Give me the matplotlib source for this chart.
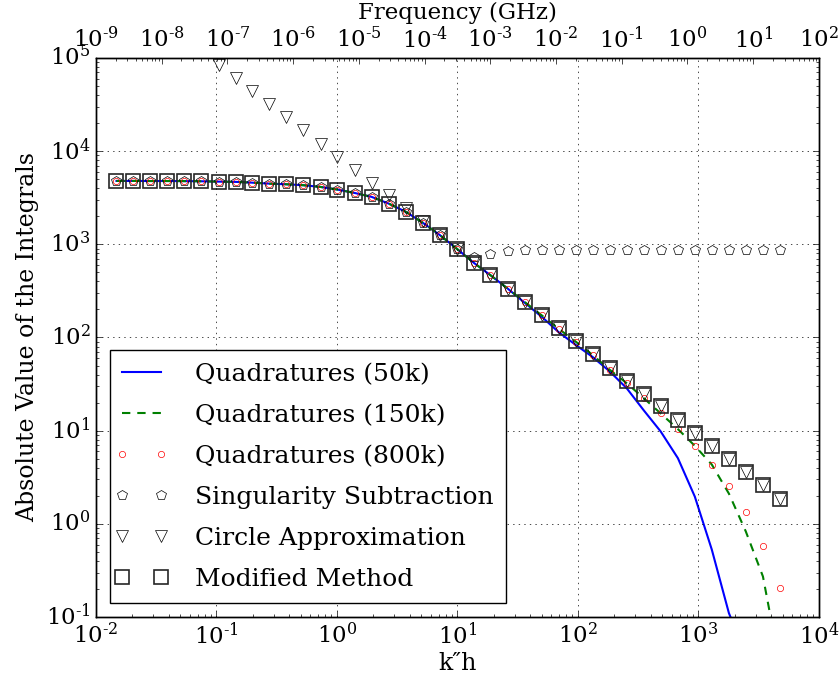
import numpy as np
import matplotlib
matplotlib.use('Agg')
import matplotlib.pyplot as plt
from matplotlib.ticker import FuncFormatter
from matplotlib.lines import Line2D
from matplotlib.legend_handler import HandlerLine2D

plt.style.use('classic')
plt.rcParams['font.family'] = 'serif'
plt.rcParams['font.serif'] = ['DejaVu Serif']
plt.rcParams['mathtext.fontset'] = 'dejavuserif'

nan = float('nan')

# sample points (k''h)
k_h = [0.0148, 0.0204, 0.0283, 0.0392, 0.0542, 0.0750, 0.104, 0.144, 0.199, 0.275,
       0.381, 0.527, 0.730, 1.01, 1.40, 1.94, 2.68, 3.71, 5.14, 7.11,
       9.84, 13.6, 18.8, 26.1, 36.1, 50.0, 69.2, 95.7, 133, 184,
       254, 352, 486, 675, 933, 1290, 1790, 2470, 3430, 4740]

modified = [4790, 4790, 4780, 4780, 4770, 4750, 4710, 4680, 4590, 4480,
            4410, 4310, 4130, 3870, 3560, 3230, 2740, 2240, 1710, 1262,
            900, 636, 466, 335, 241, 173, 125, 92.7, 66.2, 47.6,
            34.2, 24.6, 18.2, 13.1, 9.4, 6.82, 4.94, 3.56, 2.58, 1.85]

circle_approx = [nan, nan, nan, nan, nan, nan, 85000, 61000, 44300, 32100,
                 23100, 16800, 12000, 8730, 6280, 4590, 3360, 2440, 1760, 1262,
                 900, 636, 466, 335, 241, 173, 125, 92.7, 66.2, 47.6,
                 34.2, 24.6, 18.2, 13.1, 9.4, 6.82, 4.94, 3.56, 2.58, 1.85]

sing_sub = [4790, 4790, 4780, 4780, 4770, 4750, 4710, 4680, 4590, 4480,
            4410, 4310, 4130, 3870, 3560, 3230, 2740, 2240, 1710, 1262,
            900, 738, 789, 850, 877, 877, 877, 877, 877, 877,
            877, 877, 877, 877, 877, 877, 877, 877, 877, 877]

quad_800k = [4790, 4790, 4780, 4780, 4770, 4750, 4710, 4680, 4590, 4480,
             4410, 4310, 4130, 3870, 3560, 3230, 2740, 2240, 1710, 1262,
             900, 636, 466, 335, 241, 173, 124, 90.4, 64.6, 44.9,
             32.3, 22.3, 15.3, 10.4, 6.87, 4.33, 2.56, 1.34, 0.585, 0.204]

quad_150k = [4790, 4790, 4780, 4780, 4770, 4750, 4710, 4680, 4590, 4480,
             4410, 4310, 4130, 3870, 3560, 3230, 2740, 2240, 1710, 1262,
             900, 636, 466, 335, 241, 173, 124, 90.4, 64.6, 44.9,
             32.3, 22.3, 15.3, 10.4, 6.87, 4.33, 2.11, 0.83, 0.272, 0.03]

quad_50k = [4790, 4790, 4780, 4780, 4770, 4750, 4710, 4680, 4590, 4480,
            4410, 4310, 4130, 3870, 3560, 3230, 2740, 2240, 1710, 1262,
            900, 636, 466, 335, 236, 167, 114, 83.4, 61.5, 43.1,
            28.5, 16.5, 9.8, 5.07, 1.96, 0.53, 0.11, 0.04, 0.01, 0.002]


def log_label(v, pos):
    e = int(round(np.log10(v)))
    if e < 0:
        return r'$\mathdefault{10^{\text{-}%d}}$' % (-e)
    return r'$\mathdefault{10^{%d}}$' % e


fig = plt.figure(figsize=(8.39, 6.79), dpi=100, facecolor='white')
ax = fig.add_axes([0.1144, 0.0913, 0.8617, 0.8233])

ax.loglog(k_h, quad_50k, 'b-', lw=1.5, label='Quadratures (50k)')
ax.loglog(k_h, quad_150k, 'g--', lw=1.5, dashes=(6, 5), label='Quadratures (150k)')
ax.loglog(k_h, quad_800k, 'o', mfc='none', mec='r', ms=4.5, label='Quadratures (800k)')
ax.loglog(k_h, sing_sub, 'p', mfc='none', mec='k', ms=7, label='Singularity Subtraction')
ax.loglog(k_h, circle_approx, 'v', mfc='none', mec='k', ms=8, label='Circle Approximation')
ax.loglog(k_h, modified, 's', mfc='none', mec='0.15', mew=1.2, ms=10, label='Modified Method')

ax.set_xlim(1e-2, 1e4)
ax.set_ylim(1e-1, 1e5)
ax.grid(True, which='major', color='k', linestyle=':')
ax.xaxis.set_major_formatter(FuncFormatter(log_label))
ax.yaxis.set_major_formatter(FuncFormatter(log_label))
ax.tick_params(labelsize=16.5)
ax.set_xlabel('k\u2033h', fontsize=17, labelpad=2)
ax.set_ylabel('Absolute Value of the Integrals', fontsize=17)

ax.legend(loc='lower left', fontsize=18, numpoints=2, handlelength=1.55,
          handletextpad=1.35, labelspacing=0.72, borderpad=0.5,
          borderaxespad=0.55, handler_map={Line2D: HandlerLine2D(marker_pad=0)})

top = ax.twiny()
top.set_xscale('log')
top.set_xlim(1e-9, 1e2)
top.xaxis.set_major_formatter(FuncFormatter(log_label))
top.tick_params(labelsize=16.5)
top.set_xlabel('Frequency (GHz)', fontsize=16.5)

fig.savefig('out.png', dpi=100, facecolor='white')
